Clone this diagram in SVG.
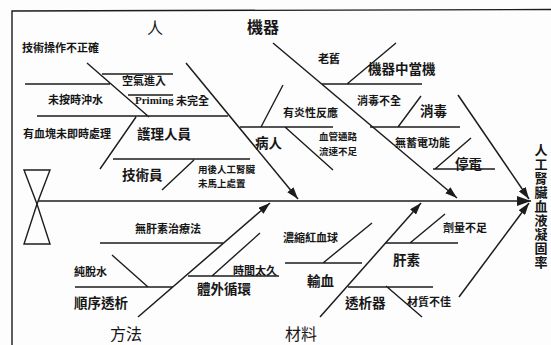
<svg xmlns="http://www.w3.org/2000/svg" width="551" height="345" viewBox="0 0 551 345">
<style>
text{font-family:"Noto Sans CJK TC","Noto Sans CJK SC",sans-serif;fill:#161616;dominant-baseline:central}
.s{font-size:11px;font-weight:700}
.m{font-size:13.5px;font-weight:700}
.t{font-size:16px}
.two{font-size:9.5px;font-weight:700;dominant-baseline:auto}
.lat{font-family:"Liberation Serif",serif;font-weight:700}
.ln{stroke:#1c1c1c;stroke-width:1.4;fill:none}
.bone{stroke:#1c1c1c;stroke-width:1.5;fill:none;marker-end:url(#ah)}
.vt{writing-mode:vertical-rl;font-size:13px;font-weight:700;letter-spacing:1px}
</style>
<defs>
<marker id="ah" viewBox="0 0 12 8" refX="12" refY="4" markerWidth="12" markerHeight="8" markerUnits="userSpaceOnUse" orient="auto"><path d="M0,0 L12,4 L0,8 Z" fill="#1c1c1c"/></marker>
<marker id="ahb" viewBox="0 0 14 10" refX="14" refY="5" markerWidth="14" markerHeight="10" markerUnits="userSpaceOnUse" orient="auto"><path d="M0,0 L14,5 L0,10 Z" fill="#1c1c1c"/></marker>
</defs>
<rect width="551" height="345" fill="#fdfdfd"/>
<g id="frame" class="ln"><path d="M12,345 L12,11 L551,9.5"/></g>
<g id="connectors">
<path class="ln" d="M38,201 L531,201" marker-end="url(#ahb)"/>
<polygon class="ln" points="24,170 50,170 37,204"/>
<polygon class="ln" points="37,204 24,244 50,244"/>
<path class="bone" d="M186,63 L298,199"/>
<path class="bone" d="M273,43 L457,198"/>
<path class="bone" d="M458,95 L529,199"/>
<path class="bone" d="M138,317 L270,203"/>
<path class="bone" d="M320,317 L421,203"/>
<path class="bone" d="M459,297 L529,203"/>
<path class="ln" d="M87,63 L149,117 M102,74 L173,74 M25,84 L110,84 M128,95 L173,95 M37,116 L228,116 M136,117 L100,169 M113,159 L250,159 M194,160 L162,190"/>
<path class="ln" d="M240,127 L333,127 M283,85 L261,127 M285,127 L333,170"/>
<path class="ln" d="M322,84 L422,84 M347,84 L396,43 M370,127 L460,127 M421,96 L398,127 M433,169 L495,169 M435,169 L471,138"/>
<path class="ln" d="M100,243 L223,243 M75,287 L173,287 M112,255 L148,287 M188,276 L279,276 M212,276 L260,233"/>
<path class="ln" d="M285,263 L362,263 M323,263 L372,223 M385,243 L458,243 M410,243 L445,214 M348,287 L433,287 M386,286 L422,317"/>
</g>
<g id="cat-ren"><text class="t" x="147" y="27">人</text></g>
<g id="cat-jiqi"><text class="t" x="247" y="26" font-weight="700">機器</text></g>
<g id="cat-fangfa"><text class="t" x="110" y="333">方法</text></g>
<g id="cat-cailiao"><text class="t" x="285" y="333">材料</text></g>
<g id="n-jishucaozuo"><text class="s" x="22" y="47">技術操作不正確</text></g>
<g id="n-kongqi"><text class="s" x="122" y="80">空氣進入</text></g>
<g id="n-weianshi"><text class="s" x="48" y="99">未按時沖水</text></g>
<g id="n-priming"><text class="s" x="135" y="100"><tspan class="lat">Priming</tspan> 未完全</text></g>
<g id="n-xuekuai"><text class="s" x="23" y="133">有血塊未即時處理</text></g>
<g id="n-huli"><text class="m" x="137" y="133">護理人員</text></g>
<g id="n-jishuyuan"><text class="m" x="122" y="174">技術員</text></g>
<g id="n-yonghou"><text class="two" x="198" y="172.5">用後人工腎臟</text><text class="two" x="198" y="187">未馬上處置</text></g>
<g id="n-laojiu"><text class="s" x="318" y="58">老舊</text></g>
<g id="n-dangji"><text class="m" x="368" y="68" font-size="14">機器中當機</text></g>
<g id="n-yanxing"><text class="s" x="283" y="112" font-size="10">有炎性反應</text></g>
<g id="n-xiaodubuquan"><text class="s" x="357" y="100">消毒不全</text></g>
<g id="n-xiaodu"><text class="m" x="420" y="110" font-size="13">消毒</text></g>
<g id="n-bingren"><text class="m" x="255" y="142">病人</text></g>
<g id="n-xueguan"><text class="two" x="319" y="140">血管通路</text><text class="two" x="319" y="154.5">流速不足</text></g>
<g id="n-xudian"><text class="s" x="395" y="142" font-size="10.5">無蓄電功能</text></g>
<g id="n-tingdian"><text class="m" x="455" y="163" font-size="13">停電</text></g>
<g id="n-wuganxu"><text class="s" x="135" y="228">無肝素治療法</text></g>
<g id="n-chuntuoshui"><text class="s" x="74" y="271" font-size="9">純脫水</text></g>
<g id="n-shijian"><text class="s" x="233" y="270" font-size="10">時間太久</text></g>
<g id="n-shunxu"><text class="m" x="74" y="302" font-size="13">順序透析</text></g>
<g id="n-tiwai"><text class="m" x="197" y="288" font-size="14">體外循環</text></g>
<g id="n-nongsuo"><text class="s" x="283" y="237">濃縮紅血球</text></g>
<g id="n-shuxue"><text class="m" x="307" y="280" font-size="14">輸血</text></g>
<g id="n-jiliang"><text class="s" x="443" y="227">劑量不足</text></g>
<g id="n-gansu"><text class="m" x="393" y="259">肝素</text></g>
<g id="n-touxiqi"><text class="m" x="345" y="302">透析器</text></g>
<g id="n-caizhi"><text class="s" x="407" y="301" font-size="10.5">材質不佳</text></g>
<g id="n-result"><text class="vt" x="541" y="143.5">人工腎臟血液凝固率</text></g>
</svg>
